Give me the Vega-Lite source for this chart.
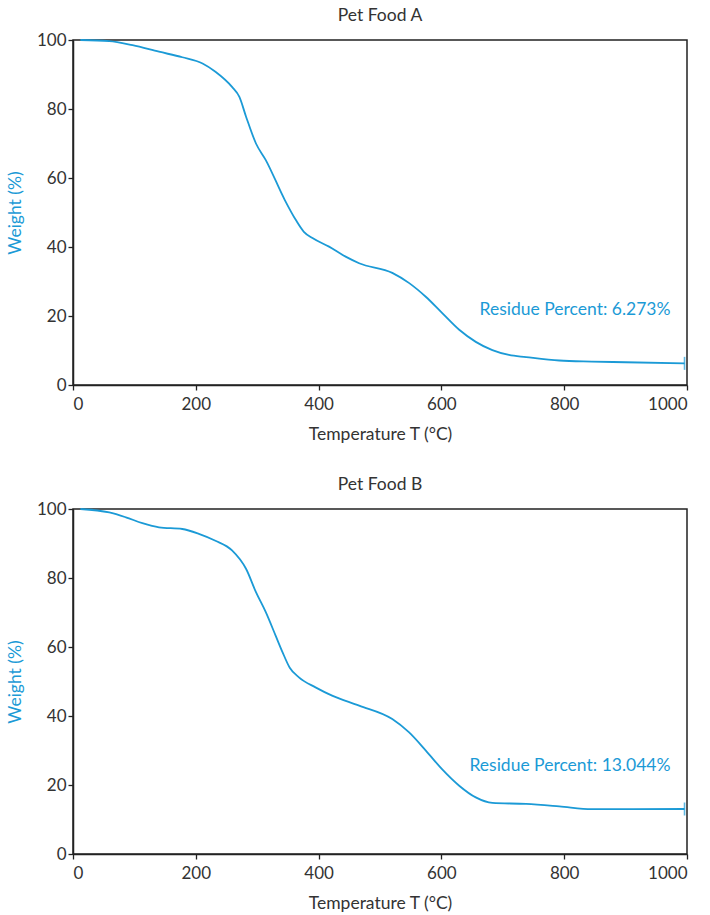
{
  "$schema": "https://vega.github.io/schema/vega-lite/v6.json",
  "padding": {"left": 5, "top": 5, "right": 0, "bottom": 5},
  "spacing": 30,
  "config": {
    "font": "Lato",
    "view": {"stroke": "#222", "strokeWidth": 1.5},
    "axis": {
      "grid": false,
      "domainColor": "#222",
      "domainWidth": 1.5,
      "tickColor": "#222",
      "tickWidth": 1.3,
      "tickSize": 5,
      "labelFontSize": 17,
      "labelColor": "#333",
      "labelPadding": 2,
      "titleFontSize": 17.5,
      "titleFontWeight": "normal",
      "titleColor": "#333"
    },
    "title": {"fontSize": 17.5, "fontWeight": "normal", "color": "#333", "offset": 7}
  },
  "datasets": {
    "A": [
      {"T": 12, "W": 100}, {"T": 59, "W": 99.7}, {"T": 97, "W": 98.5}, {"T": 140, "W": 96.6},
      {"T": 178, "W": 95.0}, {"T": 211, "W": 93.2}, {"T": 232, "W": 90.8}, {"T": 259, "W": 86.4},
      {"T": 271, "W": 83.5}, {"T": 282, "W": 77.7}, {"T": 298, "W": 70.0}, {"T": 314, "W": 65.2},
      {"T": 345, "W": 53.6}, {"T": 363, "W": 47.8}, {"T": 376, "W": 44.4}, {"T": 390, "W": 42.6},
      {"T": 417, "W": 40.1}, {"T": 444, "W": 37.2}, {"T": 466, "W": 35.3}, {"T": 520, "W": 32.5},
      {"T": 547, "W": 29.6}, {"T": 575, "W": 25.5}, {"T": 601, "W": 20.9}, {"T": 629, "W": 16.0},
      {"T": 656, "W": 12.5}, {"T": 683, "W": 10.1}, {"T": 710, "W": 8.7}, {"T": 738, "W": 8.1},
      {"T": 792, "W": 7.1}, {"T": 845, "W": 6.8}, {"T": 900, "W": 6.6}, {"T": 996, "W": 6.273}
    ],
    "B": [
      {"T": 12, "W": 100}, {"T": 59, "W": 99.0}, {"T": 86, "W": 97.6}, {"T": 113, "W": 95.9},
      {"T": 140, "W": 94.7}, {"T": 178, "W": 94.2}, {"T": 205, "W": 92.8}, {"T": 232, "W": 90.8},
      {"T": 259, "W": 88.0}, {"T": 282, "W": 82.6}, {"T": 298, "W": 75.9}, {"T": 314, "W": 70.1},
      {"T": 330, "W": 63.3}, {"T": 341, "W": 58.6}, {"T": 353, "W": 54.0}, {"T": 368, "W": 51.2},
      {"T": 395, "W": 48.3}, {"T": 422, "W": 45.9}, {"T": 466, "W": 43.0}, {"T": 520, "W": 39.1},
      {"T": 547, "W": 35.3}, {"T": 575, "W": 29.9}, {"T": 601, "W": 24.6}, {"T": 629, "W": 19.8},
      {"T": 656, "W": 16.4}, {"T": 683, "W": 14.8}, {"T": 738, "W": 14.5}, {"T": 792, "W": 13.8},
      {"T": 845, "W": 13.0}, {"T": 996, "W": 13.044}
    ],
    "resA": [{"T": 996, "W": 6.273, "label": "Residue Percent: 6.273%"}],
    "resB": [{"T": 996, "W": 13.044, "label": "Residue Percent: 13.044%"}]
  },
  "vconcat": [
    {
      "title": "Pet Food A",
      "width": 614,
      "height": 345,
      "encoding": {
        "x": {"field": "T", "type": "quantitative", "scale": {"domain": [0, 1000], "nice": false},
              "axis": {"title": "Temperature T (°C)", "format": "d", "values": [0, 200, 400, 600, 800, 1000], "labelPadding": 6, "titlePadding": 13}},
        "y": {"field": "W", "type": "quantitative", "scale": {"domain": [0, 100], "nice": false},
              "axis": {"title": "Weight (%)", "titleColor": "#1b9ad6", "values": [0, 20, 40, 60, 80, 100], "titlePadding": 12}}
      },
      "layer": [
        {"data": {"name": "A"}, "mark": {"type": "line", "color": "#1b9ad6", "strokeWidth": 1.8, "interpolate": "monotone"}},
        {"data": {"name": "resA"}, "mark": {"type": "tick", "orient": "vertical", "color": "#1b9ad6", "size": 13, "thickness": 1.6}},
        {"data": {"name": "resA"}, "mark": {"type": "text", "align": "right", "baseline": "middle", "dx": -14, "dy": -53, "fontSize": 17.5, "color": "#1b9ad6"},
         "encoding": {"text": {"field": "label"}}}
      ]
    },
    {
      "title": "Pet Food B",
      "width": 614,
      "height": 345,
      "encoding": {
        "x": {"field": "T", "type": "quantitative", "scale": {"domain": [0, 1000], "nice": false},
              "axis": {"title": "Temperature T (°C)", "format": "d", "values": [0, 200, 400, 600, 800, 1000], "labelPadding": 6, "titlePadding": 13}},
        "y": {"field": "W", "type": "quantitative", "scale": {"domain": [0, 100], "nice": false},
              "axis": {"title": "Weight (%)", "titleColor": "#1b9ad6", "values": [0, 20, 40, 60, 80, 100], "titlePadding": 12}}
      },
      "layer": [
        {"data": {"name": "B"}, "mark": {"type": "line", "color": "#1b9ad6", "strokeWidth": 1.8, "interpolate": "monotone"}},
        {"data": {"name": "resB"}, "mark": {"type": "tick", "orient": "vertical", "color": "#1b9ad6", "size": 13, "thickness": 1.6}},
        {"data": {"name": "resB"}, "mark": {"type": "text", "align": "right", "baseline": "middle", "dx": -14, "dy": -43, "fontSize": 17.5, "color": "#1b9ad6"},
         "encoding": {"text": {"field": "label"}}}
      ]
    }
  ]
}
